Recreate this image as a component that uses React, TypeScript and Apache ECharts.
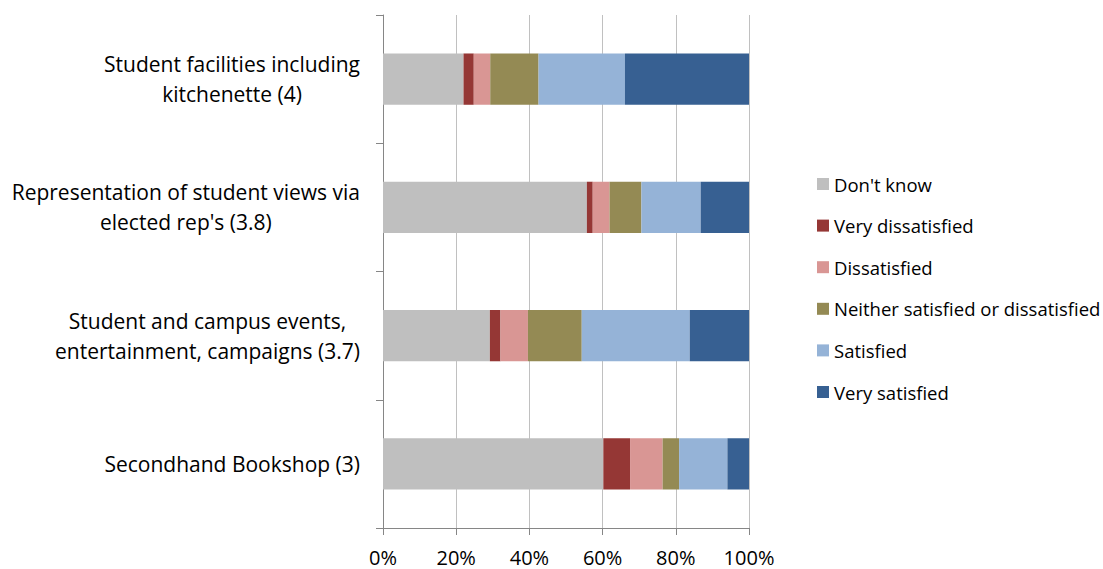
import React, { useEffect, useRef } from "react";
import * as echarts from "echarts";

const categories = [
  "Student facilities including\nkitchenette (4)",
  "Representation of student views via\nelected rep's (3.8)",
  "Student and campus events,\nentertainment, campaigns (3.7)",
  "Secondhand Bookshop (3)",
];

const seriesNames = [
  "Don't know",
  "Very dissatisfied",
  "Dissatisfied",
  "Neither satisfied or dissatisfied",
  "Satisfied",
  "Very satisfied",
];

const dontKnow = [22.0, 55.7, 29.2, 60.2];
const veryDissatisfied = [2.8, 1.6, 2.9, 7.3];
const dissatisfied = [4.5, 4.6, 7.5, 8.9];
const neither = [13.2, 8.7, 14.7, 4.5];
const satisfied = [23.6, 16.2, 29.5, 13.2];
const verySatisfied = [33.9, 13.2, 16.2, 5.9];

const seriesValues = [dontKnow, veryDissatisfied, dissatisfied, neither, satisfied, verySatisfied];
const colors = ["#BFBFBF", "#953735", "#D99694", "#948A54", "#95B3D7", "#376092"];

const FONT = "Open Sans";

export default function App() {
  const ref = useRef<HTMLDivElement>(null);
  useEffect(() => {
    if (!ref.current) return;
    const chart = echarts.init(ref.current, undefined, { renderer: "svg" });
    chart.setOption({
      animation: false,
      backgroundColor: "#ffffff",
      color: colors,
      grid: { left: 383, top: 15, width: 366, height: 513, containLabel: false },
      legend: {
        orient: "vertical",
        left: 812,
        top: 169,
        itemWidth: 12,
        itemHeight: 12,
        itemGap: 21.6,
        icon: "rect",
        textStyle: { fontFamily: FONT, fontSize: 18.5, color: "#000", lineHeight: 20, padding: [0, 0, 0, 0] },
        data: seriesNames,
      },
      xAxis: {
        type: "value",
        min: 0,
        max: 100,
        interval: 20,
        axisLine: { show: true, lineStyle: { color: "#868686", width: 1 } },
        axisTick: { show: true, length: 7, lineStyle: { color: "#868686" } },
        axisLabel: { formatter: "{value}%", fontFamily: FONT, fontSize: 20, color: "#000", margin: 19 },
        splitLine: { show: true, lineStyle: { color: "#C0C0C0", width: 1 } },
      },
      yAxis: {
        type: "category",
        inverse: true,
        data: categories,
        axisLine: { show: true, lineStyle: { color: "#868686", width: 1 } },
        axisTick: { show: true, length: 7, inside: false, lineStyle: { color: "#868686" } },
        axisLabel: {
          margin: 23,
          align: "right",
          formatter: (v: string) => v.split("\n").map((l) => `{c|${l}}`).join("\n"),
          rich: {
            c: { align: "center", fontFamily: FONT, fontSize: 21, color: "#000", lineHeight: 30 },
          },
        },
      },
      series: seriesNames.map((name, i) => ({
        name,
        type: "bar",
        stack: "total",
        barWidth: "40%",
        data: seriesValues[i],
        itemStyle: { color: colors[i] },
      })),
    });
    return () => chart.dispose();
  }, []);
  return (
    <div
      ref={ref}
      style={{ position: "fixed", left: 0, top: 0, width: 1103, height: 569, background: "#fff" }}
    />
  );
}
